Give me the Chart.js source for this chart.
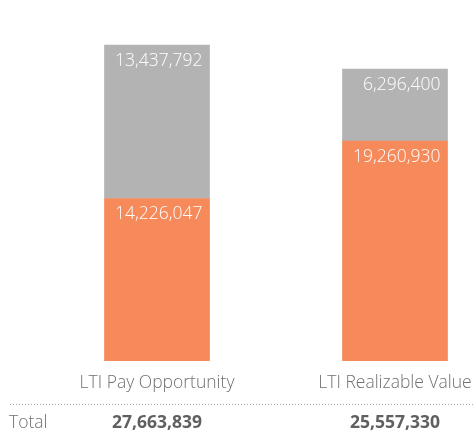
<!DOCTYPE html>
<html><head><meta charset="utf-8">
<script src="https://cdn.jsdelivr.net/npm/chart.js@4"></script>
<style>
html,body{margin:0;padding:0;overflow:hidden;background:#fff;width:473px;height:438px}
#wrap{position:absolute;left:0;top:0;width:520px;height:438px}
</style></head><body>
<div id="wrap"><canvas id="c" width="520" height="438"></canvas></div>
<script>
const categories = ["LTI Pay Opportunity", "LTI Realizable Value"];
const orangeValues = [14226047, 19260930];
const greyValues = [13437792, 6296400];
const totalLabel = "Total";

const FONT = "'Open Sans', 'Noto Sans', sans-serif";
const fmt = v => v.toLocaleString('en-US');

const labelPlugin = {
  id: 'segLabels',
  afterDatasetsDraw(chart) {
    const ctx = chart.ctx;
    ctx.save();
    ctx.font = "300 17.5px " + FONT;
    ctx.fillStyle = '#ffffff';
    ctx.textAlign = 'right';
    ctx.textBaseline = 'middle';
    chart.data.datasets.forEach((ds, di) => {
      chart.getDatasetMeta(di).data.forEach((bar, i) => {
        const right = bar.x + bar.width / 2 - 7;
        const top = Math.min(bar.y, bar.base);
        ctx.fillText(fmt(ds.data[i]), right, top + 16);
      });
    });
    ctx.restore();
  }
};

const footerPlugin = {
  id: 'footer',
  afterDraw(chart) {
    const ctx = chart.ctx;
    const xs = chart.scales.x;
    ctx.save();
    ctx.fillStyle = '#a8a8a8';
    for (let x = 10; x < chart.width; x += 3) {
      ctx.fillRect(x, 404, 1, 1);
    }
    ctx.textBaseline = 'middle';
    ctx.fillStyle = '#6f6f6f';
    ctx.font = "300 17.5px " + FONT;
    ctx.textAlign = 'left';
    ctx.fillText(totalLabel, 9, 423);
    ctx.font = "bold 17.5px " + FONT;
    ctx.textAlign = 'center';
    ctx.fillStyle = '#606060';
    categories.forEach((c, i) => {
      ctx.fillText(fmt(orangeValues[i] + greyValues[i]), xs.getPixelForValue(i), 423);
    });
    ctx.restore();
  }
};

new Chart(document.getElementById('c'), {
  type: 'bar',
  data: {
    labels: categories,
    datasets: [
      { data: orangeValues, backgroundColor: '#F68A5A', borderWidth: 0, barThickness: 105 },
      { data: greyValues, backgroundColor: '#B3B3B3', borderWidth: 0, barThickness: 105 }
    ]
  },
  options: {
    responsive: false,
    animation: false,
    events: [],
    layout: { padding: { left: 38, right: 6, top: 0, bottom: 32 } },
    plugins: { legend: { display: false }, tooltip: { enabled: false } },
    scales: {
      x: {
        stacked: true,
        grid: { display: false, drawTicks: false },
        border: { display: false },
        ticks: { color: '#707070', font: { family: FONT, size: 17.5, weight: 300 }, padding: 12 },
      },
      y: {
        stacked: true,
        display: false,
        min: 0,
        max: 31600000
      }
    }
  },
  plugins: [labelPlugin, footerPlugin]
});
</script>
</body></html>
